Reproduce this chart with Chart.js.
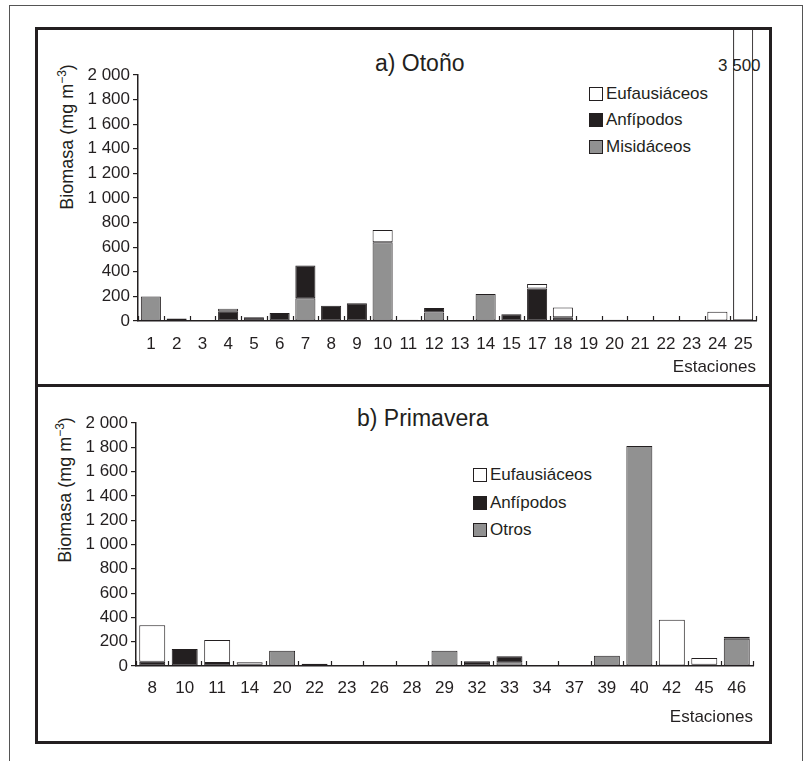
<!DOCTYPE html>
<html>
<head>
<meta charset="utf-8">
<script src="https://cdn.jsdelivr.net/npm/chart.js@4.4.1/dist/chart.umd.min.js"></script>
<style>
  body { margin: 0; width: 803px; height: 761px; background: #fff; position: relative; overflow: hidden;
         font-family: 'Liberation Sans', Arial, sans-serif; color: #231f20; }
  .abs { position: absolute; }
  canvas { position: absolute; z-index: 1; }
  .title { font-size: 23px; line-height: 23px; white-space: nowrap; }
  .ytitle { font-size: 18px; white-space: nowrap; transform: translate(-50%, -50%) rotate(-90deg); }
  .ytitle sup { font-size: 12px; }
  .leg { font-size: 17px; line-height: 17px; white-space: nowrap; display: flex; align-items: center; }
  .leg span { display: inline-block; width: 12px; height: 12px; border: 1px solid #231f20; margin-right: 3px; }
</style>
</head>
<body>
<div class="abs" style="left:9px;top:5px;width:792px;height:780px;border:1px solid #555;border-bottom:none;"></div>
<div class="abs" style="left:35px;top:27px;width:737px;height:717px;border:3px solid #231f20;box-sizing:border-box;"></div>
<div class="abs" style="left:35px;top:384px;width:737px;height:3px;background:#231f20;"></div>

<div class="abs title" style="left:375px;top:52px;">a) Otoño</div>
<div class="abs title" style="left:357px;top:407px;">b) Primavera</div>

<div class="abs ytitle" style="left:66px;top:137px;">Biomasa (mg m<sup>−3</sup>)</div>
<div class="abs ytitle" style="left:64px;top:490px;">Biomasa (mg m<sup>−3</sup>)</div>

<div class="abs" style="left:718px;top:57px;font-size:17px;line-height:17px;">3 500</div>

<div class="abs leg" style="left:589px;top:85px;"><span style="background:#fff"></span>Eufausiáceos</div>
<div class="abs leg" style="left:589px;top:111px;"><span style="background:#231f20"></span>Anfípodos</div>
<div class="abs leg" style="left:589px;top:138px;"><span style="background:#919191"></span>Misidáceos</div>

<div class="abs leg" style="left:473px;top:466px;"><span style="background:#fff"></span>Eufausiáceos</div>
<div class="abs leg" style="left:473px;top:494px;"><span style="background:#231f20"></span>Anfípodos</div>
<div class="abs leg" style="left:473px;top:521px;"><span style="background:#919191"></span>Otros</div>

<canvas id="otono" width="731" height="354" style="left:38px;top:30px;"></canvas>
<canvas id="primavera" width="731" height="354" style="left:38px;top:387px;"></canvas>

<script>
// a) Otoño
const otonoStations = ['1','2','3','4','5','6','7','8','9','10','11','12','13','14','15','17','18','19','20','21','22','23','24','25'];
const otonoMisid = [200, 0, 0, 0, 0, 0, 185, 0, 0, 640, 0, 70, 0, 220, 0, 0, 0, 0, 10, 0, 0, 8, 0, 0];
const otonoAnf   = [0, 20, 0, 80, 30, 65, 267, 125, 144, 0, 10, 35, 0, 0, 55, 265, 30, 0, 0, 0, 0, 0, 5, 0];
const otonoEuf   = [0, 0, 0, 20, 0, 0, 0, 0, 0, 100, 0, 0, 0, 0, 0, 35, 80, 0, 0, 0, 0, 0, 70, 3500];

// b) Primavera
const primStations = ['8','10','11','14','20','22','23','26','28','29','32','33','34','37','39','40','42','45','46'];
const primOtros = [0, 0, 0, 0, 125, 0, 0, 0, 0, 125, 0, 30, 0, 8, 85, 1810, 0, 0, 225];
const primAnf   = [35, 140, 25, 10, 0, 18, 0, 0, 0, 0, 40, 50, 0, 0, 0, 0, 0, 10, 15];
const primEuf   = [300, 0, 190, 20, 0, 0, 0, 0, 0, 0, 0, 0, 0, 0, 0, 0, 380, 55, 0];

const yTicks = [0, 200, 400, 600, 800, 1000, 1200, 1400, 1600, 1800, 2000];
const yMax = 2000;

const INK = '#231f20';
const GRAY = '#919191';
Chart.defaults.font.family = "'Liberation Sans', Arial, sans-serif";
Chart.defaults.color = INK;

// small tick marks pointing up from the x axis, between stations
const innerTicks = {
  id: 'innerTicks',
  afterDatasetsDraw(chart) {
    const x = chart.scales.x, ctx = chart.ctx, n = x.ticks.length;
    ctx.save();
    ctx.strokeStyle = INK;
    ctx.lineWidth = 1.2;
    for (let i = 0; i <= n; i++) {
      let px;
      if (i === 0) px = x.left;
      else if (i === n) px = x.right;
      else px = (x.getPixelForValue(i - 1) + x.getPixelForValue(i)) / 2;
      px = Math.round(px) + 0.5;
      ctx.beginPath();
      ctx.moveTo(px, x.top);
      ctx.lineTo(px, x.top - 5);
      ctx.stroke();
    }
    ctx.restore();
  }
};

function fmt(v) {
  return v >= 1000 ? Math.floor(v / 1000) + ' ' + String(v % 1000).padStart(3, '0') : String(v);
}

function makeChart(id, labels, bottom, mid, top, opts) {
  const nz = a => a.map(v => v || null);
  const ds = (label, data, color) => ({
    label, data: nz(data), backgroundColor: color, borderColor: INK, borderWidth: 1,
    borderSkipped: false, barPercentage: opts.barPct, categoryPercentage: 1
  });
  const eufDs = ds('Eufausiáceos', top, '#fff');
  eufDs.backgroundColor = c => (c.raw > yMax ? 'rgba(255,255,255,0)' : '#fff');
  eufDs.clip = false;
  return new Chart(document.getElementById(id), {
    type: 'bar',
    data: {
      labels,
      datasets: [ds(opts.bottomName, bottom, GRAY), ds('Anfípodos', mid, INK), eufDs]
    },
    options: {
      responsive: false,
      animation: false,
      layout: { padding: { left: 0, top: opts.padTop, right: opts.padRight, bottom: 0 } },
      plugins: { legend: { display: false }, tooltip: { enabled: false } },
      scales: {
        x: {
          stacked: true,
          grid: { display: false },
          border: { color: INK, width: 1.5 },
          ticks: { font: { size: 17 }, padding: opts.xPad, maxRotation: 0, autoSkip: false },
          title: { display: true, text: 'Estaciones', align: 'end', font: { size: 17 },
                   padding: { top: opts.titlePad, bottom: opts.titlePad } },
          afterFit(s) { s.height = opts.xHeight; }
        },
        y: {
          stacked: true,
          min: 0, max: yMax,
          afterBuildTicks(s) { s.ticks = yTicks.map(v => ({ value: v })); },
          grid: { drawOnChartArea: false, drawTicks: true, tickLength: 5, color: INK, lineWidth: 1.2 },
          border: { color: INK, width: 1.5 },
          ticks: { font: { size: 17 }, padding: 3, callback: v => fmt(v) },
          afterFit(s) { s.width = opts.yWidth; }
        }
      }
    },
    plugins: [innerTicks]
  });
}

makeChart('otono', otonoStations, otonoMisid, otonoAnf, otonoEuf,
  { bottomName: 'Misidáceos', barPct: 0.78, padTop: 45, padRight: 13, yWidth: 100, xHeight: 63, xPad: 5, titlePad: 6 });
makeChart('primavera', primStations, primOtros, primAnf, primEuf,
  { bottomName: 'Otros', barPct: 0.8, padTop: 36, padRight: 16, yWidth: 98, xHeight: 75, xPad: 4, titlePad: 13 });
</script>
</body>
</html>
